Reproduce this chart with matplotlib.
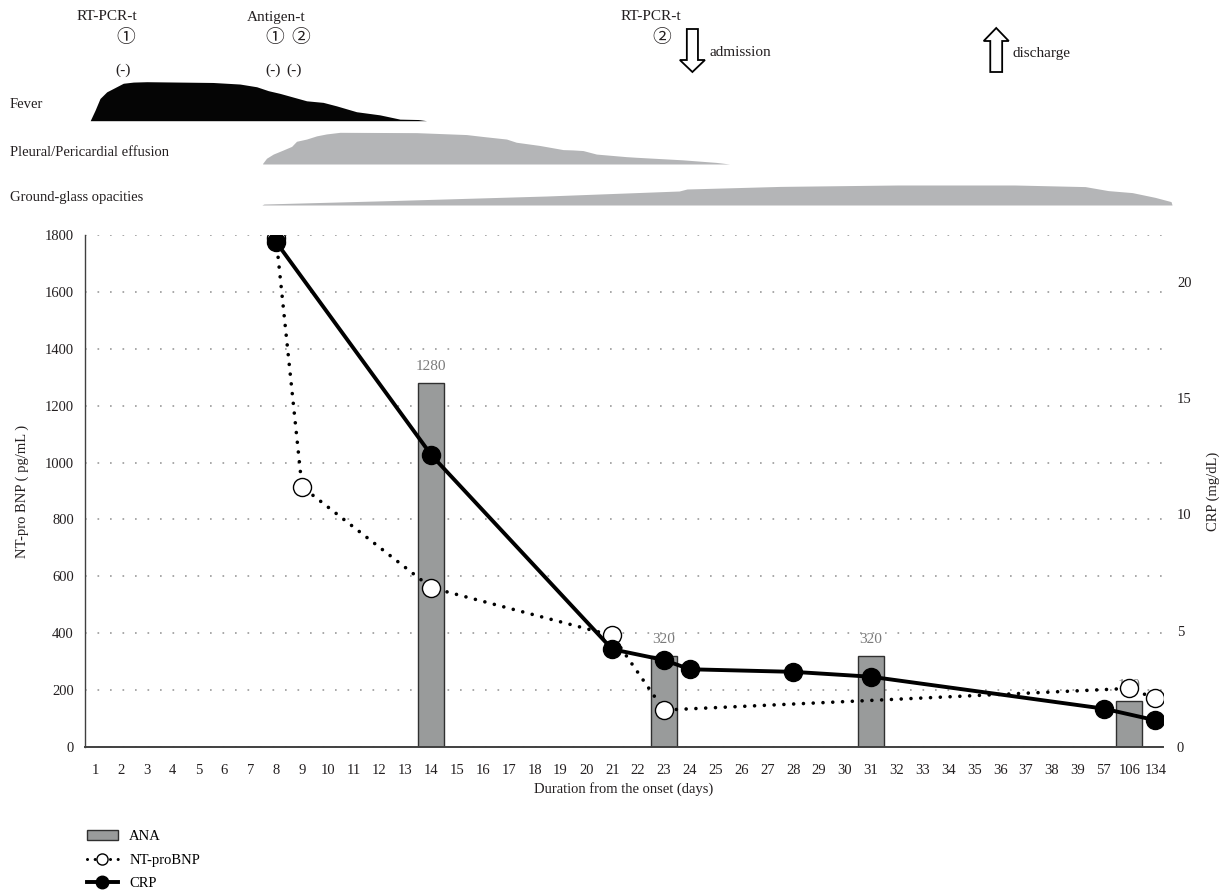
import numpy as np
import matplotlib
matplotlib.use("Agg")
from matplotlib import pyplot as plt
from matplotlib.patches import FancyArrow, Patch
from matplotlib.lines import Line2D

plt.rcParams['font.family'] = ['Liberation Serif', 'Noto Sans CJK JP', 'DejaVu Sans']

# x categories (days from onset)
days = list(range(1, 40)) + [57, 106, 134]

ana_days = [14, 23, 31, 106]
ana_titer = [1280, 320, 320, 160]

bnp_days = [8, 9, 14, 21, 23, 106, 134]
bnp_vals = [1790, 915, 560, 392, 130, 206, 171]

crp_days = [8, 14, 21, 23, 24, 28, 31, 57, 134]
crp_vals = [21.7, 12.55, 4.2, 3.74, 3.34, 3.23, 3.02, 1.65, 1.15]

# symptom / finding profiles above the chart (x in category index, relative height)
fever_x = [-0.19, 0.0, 0.19, 0.45, 0.77, 1.09, 1.48, 2.0, 4.56, 5.6, 6.25, 6.7, 7.15,
           8.18, 8.82, 9.34, 10.11, 11.01, 11.79, 12.5, 12.82]
fever_h = [0, 0.27, 0.57, 0.74, 0.85, 0.96, 0.99, 1.0, 0.98, 0.94, 0.87, 0.77, 0.70,
           0.51, 0.47, 0.38, 0.23, 0.15, 0.04, 0.03, 0.0]

pleural_x = [6.48, 6.63, 6.89, 7.28, 7.60, 7.79, 8.18, 8.57, 8.95, 9.47, 12.43, 14.36, 15.0,
             15.91, 16.29, 17.19, 18.1, 18.48, 18.87, 19.39, 20.54, 20.93, 22.73, 24.02, 24.54]
pleural_h = [0.02, 0.18, 0.31, 0.44, 0.55, 0.71, 0.78, 0.88, 0.94, 0.99, 0.98, 0.92, 0.86,
             0.78, 0.68, 0.58, 0.45, 0.44, 0.42, 0.31, 0.23, 0.21, 0.13, 0.05, 0.0]

ggo_x = [6.45, 6.53, 11.42, 17.46, 22.59, 22.89, 26.51, 31.03, 35.57, 38.29, 39.18,
         40.11, 41.0, 41.61, 41.65]
ggo_h = [0.0, 0.05, 0.22, 0.45, 0.70, 0.80, 0.93, 1.0, 1.0, 0.92, 0.72, 0.62, 0.38, 0.17, 0.0]

row_names = ['Fever', 'Pleural/Pericardial effusion', 'Ground-glass opacities']

# test events: text, category position, row (px from top)
events = [('RT-PCR-t', 0.47, 17), ('①', 1.2, 39), ('(-)', 1.09, 70),
          ('Antigen-t', 7.0, 17), ('①', 6.94, 39), ('②', 7.95, 39),
          ('(-)', 6.9, 70), ('(-)', 7.7, 70),
          ('RT-PCR-t', 21.5, 16), ('②', 21.9, 39)]

W, H = 1221, 893
pos = {d: i for i, d in enumerate(days)}
xlim = (-0.39, 41.3)
L, R = 85, 1163
TOP, BOT = 235, 747

fig = plt.figure(figsize=(W / 100, H / 100), dpi=100)

# ---- top strip ----
axt = fig.add_axes([L / W, 1 - 215 / H, (R - L) / W, 215 / H])
axt.set_xlim(*xlim)
axt.set_ylim(215, 0)
axt.axis('off')

rows = [(fever_x, fever_h, 120.7, 39, '#050505', 104),
        (pleural_x, pleural_h, 164, 32, '#b4b5b7', 152),
        (ggo_x, ggo_h, 205, 20, '#b4b5b7', 197)]
for name, (px, ph, base, hgt, col, ty) in zip(row_names, rows):
    px = np.array(px)
    ph = np.array(ph)
    axt.fill_between(px, base, base - ph * hgt, color=col, lw=0, clip_on=False)
    fig.text(10 / W, 1 - ty / H, name, fontsize=10.5, ha='left', va='center',
             color='#231f20')

for txt, x, y in events:
    fs = 13.5 if txt in ('①', '②') else 11
    axt.text(x, y, txt, ha='center', va='center', fontsize=fs, color='#231f20')

axt.add_patch(FancyArrow(23.1, 29, 0, 43, width=0.43, head_width=0.97, head_length=12,
                         length_includes_head=True, fc='white', ec='black', lw=1.3,
                         clip_on=False))
axt.text(23.76, 53, 'admission', ha='left', va='center', fontsize=11, color='#231f20')
axt.add_patch(FancyArrow(34.85, 72, 0, -44, width=0.46, head_width=0.97, head_length=13,
                         length_includes_head=True, fc='white', ec='black', lw=1.3,
                         clip_on=False))
axt.text(35.47, 53, 'discharge', ha='left', va='center', fontsize=11, color='#231f20')

# ---- main chart ----
ax = fig.add_axes([L / W, 1 - BOT / H, (R - L) / W, (BOT - TOP) / H])
ax.set_xlim(*xlim)
ax.set_ylim(0, 1800)
ax.set_yticks(np.arange(0, 1801, 200))
ax.set_xticks(range(len(days)))
ax.set_xticklabels([str(d) for d in days])
ax.set_axisbelow(True)
ax.yaxis.grid(True, ls=(0, (1, 6.5)), color='#9a9a9a', lw=1.2)
for s in ['top', 'right']:
    ax.spines[s].set_visible(False)
ax.spines['bottom'].set_color('#404040')
ax.spines['bottom'].set_linewidth(1.4)
ax.spines['left'].set_color('#404040')
ax.spines['left'].set_linewidth(1.0)
ax.tick_params(axis='x', length=0, pad=12, labelsize=10.5, labelcolor='#231f20')
ax.tick_params(axis='y', length=0, pad=8, labelsize=10.5, labelcolor='#231f20')

ana_x = [pos[d] for d in ana_days]
ax.bar(ana_x, ana_titer, width=1.0, color='#999b9b', edgecolor='#303030', lw=1.0, zorder=2)
for x, v in zip(ana_x, ana_titer):
    ax.annotate(str(v), (x, v), xytext=(0, 9), textcoords='offset points', ha='center',
                va='baseline', fontsize=11, color='#7a7a7a')

bnp_x = [pos[d] for d in bnp_days]
ax.plot(bnp_x, bnp_vals, color='black', lw=2.6, ls=(0, (0.01, 2.7)),
        dash_capstyle='round', marker='o', ms=13, mfc='white', mec='black', mew=1.0,
        zorder=3)

ax.set_xlabel('Duration from the onset (days)', fontsize=10.5, color='#231f20', labelpad=4)
ax.set_ylabel('NT-pro BNP ( pg/mL )', fontsize=10.5, color='#231f20')
ax.yaxis.set_label_coords(-0.052, 0.5)

ax2 = ax.twinx()
ax2.set_xlim(*xlim)
ax2.set_ylim(0, 22)
ax2.set_yticks([0, 5, 10, 15, 20])
for s in ax2.spines.values():
    s.set_visible(False)
ax2.tick_params(axis='y', length=0, pad=10, labelsize=10.5, labelcolor='#231f20')
crp_x = [pos[d] for d in crp_days]
ax2.plot(crp_x, crp_vals, color='black', lw=2.8, marker='o', ms=13, zorder=4)
ax2.set_ylabel('CRP (mg/dL)', fontsize=10.5, color='#231f20')
ax2.yaxis.set_label_coords(1.040, 0.5)

handles = [Patch(facecolor='#999b9b', edgecolor='#303030', lw=1.0),
           Line2D([], [], color='black', lw=2.2, ls=(0, (0.01, 2.5)), dash_capstyle='round',
                  marker='o', ms=8, mfc='white', mec='black', mew=1.0),
           Line2D([], [], color='black', lw=2.8, marker='o', ms=9)]
fig.legend(handles, ['ANA', 'NT-proBNP', 'CRP'], loc='upper left',
           bbox_to_anchor=(87 / W, 1 - 830 / H), frameon=False, fontsize=10.5,
           handlelength=2.1, handletextpad=0.8, labelspacing=0.7, borderpad=0,
           borderaxespad=0)

fig.savefig('out.png', dpi=100)
